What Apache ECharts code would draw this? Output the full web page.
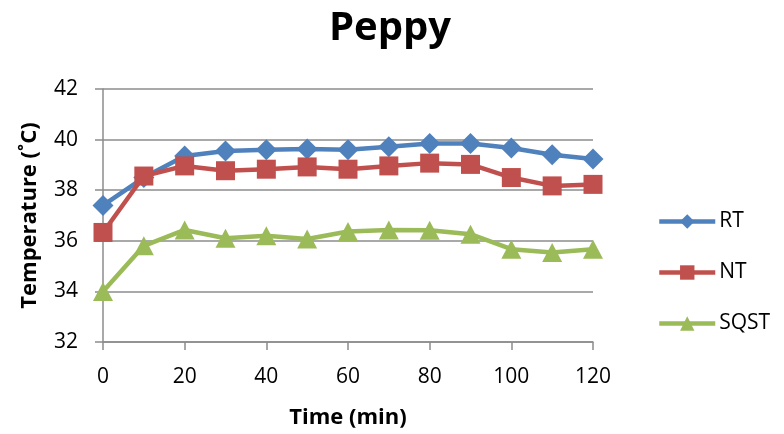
<!DOCTYPE html>
<html>
<head>
<meta charset="utf-8">
<script src="https://cdn.jsdelivr.net/npm/echarts@6/dist/echarts.min.js"></script>
<style>
  html, body { margin: 0; padding: 0; background: #fff; }
  #chart { width: 784px; height: 434px; }
</style>
</head>
<body>
<div id="chart"></div>
<script>
// Sampling times (min)
const times = [0, 10, 20, 30, 40, 50, 60, 70, 80, 90, 100, 110, 120];
// Temperatures (°C) per group
const rtValues   = [37.4, 38.5, 39.35, 39.55, 39.6, 39.63, 39.6, 39.72, 39.85, 39.85, 39.67, 39.4, 39.23];
const ntValues   = [36.33, 38.56, 38.96, 38.77, 38.83, 38.92, 38.83, 38.96, 39.07, 39.02, 38.5, 38.17, 38.23];
const sqstValues = [34.0, 35.8, 36.43, 36.1, 36.2, 36.07, 36.37, 36.43, 36.42, 36.26, 35.67, 35.54, 35.67];
// Axis ticks
const yTicks = [32, 34, 36, 38, 40, 42];
const xTicks = [0, 20, 40, 60, 80, 100, 120];

const FONT = '"Open Sans", sans-serif';
const GRID_COLOR = '#8c8c8c';

const pairs = vals => times.map((t, i) => [t, vals[i]]);

const chart = echarts.init(document.getElementById('chart'), null, { renderer: 'canvas' });

chart.setOption({
  animation: false,
  backgroundColor: '#ffffff',
  title: {
    text: 'Peppy',
    left: 385,
    textAlign: 'center',
    top: 4,
    textStyle: { fontFamily: FONT, fontSize: 40, fontWeight: 'bold', color: '#000' }
  },
  legend: {
    orient: 'vertical',
    left: 652,
    top: 206,
    itemWidth: 56,
    itemHeight: 18,
    itemGap: 30,
    lineStyle: { width: 4.5 },
    textStyle: { fontFamily: FONT, fontSize: 21, color: '#000', padding: [0, 0, 0, -1] },
    data: ['RT', 'NT', 'SQST']
  },
  grid: { left: 103, right: 191, top: 89, bottom: 90, containLabel: false },
  xAxis: {
    type: 'value',
    min: xTicks[0],
    max: xTicks[xTicks.length - 1],
    interval: 20,
    name: 'Time (min)',
    nameLocation: 'middle',
    nameGap: 65,
    nameTextStyle: { fontFamily: FONT, fontSize: 22, fontWeight: 'bold', color: '#000' },
    axisLine: { show: true, lineStyle: { color: GRID_COLOR, width: 1.5 } },
    axisTick: { show: true, length: 8, lineStyle: { color: GRID_COLOR, width: 1.5 } },
    axisLabel: { fontFamily: FONT, fontSize: 21, color: '#000', margin: 25 },
    splitLine: { show: false }
  },
  yAxis: {
    type: 'value',
    min: yTicks[0],
    max: yTicks[yTicks.length - 1],
    interval: 2,
    name: 'Temperature (˚C)',
    nameLocation: 'middle',
    nameRotate: 90,
    nameGap: 62,
    nameTextStyle: { fontFamily: FONT, fontSize: 22, fontWeight: 'bold', color: '#000' },
    axisLine: { show: true, lineStyle: { color: GRID_COLOR, width: 1.5 } },
    axisTick: { show: true, length: 8, lineStyle: { color: GRID_COLOR, width: 1.5 } },
    axisLabel: { fontFamily: FONT, fontSize: 21, color: '#000', margin: 25 },
    splitLine: { show: true, lineStyle: { color: GRID_COLOR, width: 1.5 } }
  },
  series: [
    {
      name: 'RT', type: 'line', data: pairs(rtValues),
      symbol: 'diamond', symbolSize: 21,
      itemStyle: { color: '#4F81BD' },
      lineStyle: { color: '#4F81BD', width: 4.5 },
      z: 3
    },
    {
      name: 'NT', type: 'line', data: pairs(ntValues),
      symbol: 'rect', symbolSize: 19,
      itemStyle: { color: '#C0504D' },
      lineStyle: { color: '#C0504D', width: 4.5 },
      z: 4
    },
    {
      name: 'SQST', type: 'line', data: pairs(sqstValues),
      symbol: 'triangle', symbolSize: [20, 19],
      itemStyle: { color: '#9BBB59' },
      lineStyle: { color: '#9BBB59', width: 4.5 },
      z: 5
    }
  ]
});
</script>
</body>
</html>
